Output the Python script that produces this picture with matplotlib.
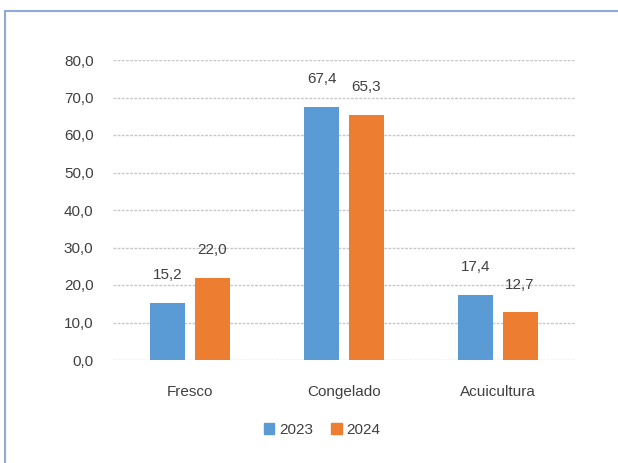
import numpy as np
import matplotlib
matplotlib.use("Agg")
import matplotlib.pyplot as plt
from matplotlib.patches import Rectangle
from matplotlib.lines import Line2D

categorias = ["Fresco", "Congelado", "Acuicultura"]
anios = ["2023", "2024"]
valores_2023 = [15.2, 67.4, 17.4]
valores_2024 = [22.0, 65.3, 12.7]
yticks = np.arange(0, 90, 10)

azul = "#5B9BD5"
naranja = "#ED7D31"
gris_texto = "#404040"

plt.rcParams['font.family'] = ['Liberation Sans', 'DejaVu Sans']

fig = plt.figure(figsize=(6.18, 4.63), dpi=100)
ax = fig.add_axes([113/618, 1 - 360/463, 462/618, 300/463])

x = np.arange(len(categorias))
w = 0.227
off = 0.143
b1 = ax.bar(x - off, valores_2023, w, color=azul, zorder=3)
b2 = ax.bar(x + off, valores_2024, w, color=naranja, zorder=3)

for bars, vals in [(b1, valores_2023), (b2, valores_2024)]:
    for r, v in zip(bars, vals):
        ax.annotate(f"{v:.1f}".replace(".", ","),
                    (r.get_x() + r.get_width()/2, v),
                    xytext=(0, 15), textcoords="offset points",
                    ha="center", va="bottom", fontsize=11, color=gris_texto)

ax.set_xlim(-0.5, 2.5)
ax.set_ylim(0, 80)
ax.set_yticks(yticks)
ax.set_yticklabels([f"{t:.1f}".replace(".", ",") for t in yticks],
                   fontsize=11, color=gris_texto)
ax.set_xticks(x)
ax.set_xticklabels(categorias, fontsize=11, color=gris_texto)
ax.tick_params(axis="both", length=0, pad=14)
ax.tick_params(axis="x", pad=18)
ax.grid(axis="y", color="#C8C8C8", linestyle=(0, (2, 1)), linewidth=1, zorder=0)
for s in ax.spines.values():
    s.set_visible(False)

handles = [Rectangle((0, 0), 1, 1, color=azul), Rectangle((0, 0), 1, 1, color=naranja)]
fig.legend(handles, anios, loc="center", bbox_to_anchor=(322/618, 1 - 430/463),
           ncol=2, frameon=False, fontsize=11, handlelength=0.7, handleheight=0.7,
           handletextpad=0.3, columnspacing=1.2, labelcolor=gris_texto)

# marco del gráfico (solo arriba e izquierda visibles)
borde = "#8FAADC"
fig.add_artist(Line2D([5/618, 1], [1 - 11/463, 1 - 11/463], color=borde, lw=1.5))
fig.add_artist(Line2D([5/618, 5/618], [0, 1 - 11/463], color=borde, lw=1.5))

fig.savefig("out.png", dpi=100)
